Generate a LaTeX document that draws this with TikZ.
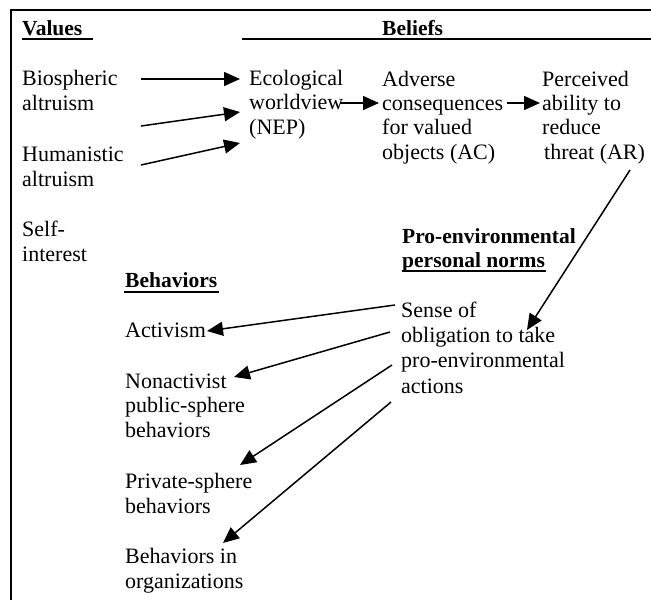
\documentclass[tikz,border=0pt]{standalone}
\usepackage{fontspec}
\setmainfont{Liberation Serif}
\usetikzlibrary{arrows.meta}
\begin{document}
\begin{tikzpicture}[x=1pt,y=-1pt,
  txt/.style={anchor=base west,inner sep=0pt,align=left,font=\fontsize{22}{24.3}\selectfont},
  txtb/.style={txt,font=\fontsize{22}{25.2}\selectfont},
  hdr/.style={txt,font=\fontsize{21.5}{24}\selectfont\bfseries},
  arr/.style={line width=1.5pt,-{Triangle[length=16pt,width=14pt]}},
  rule/.style={line width=2pt}]
\useasboundingbox (0,0) rectangle (651,600);
% frame
\coordinate (fr1) at (651,10);
\coordinate (fr2) at (11,10);
\coordinate (fr3) at (11,600);
\draw[rule] (fr1) -- (fr2) -- (fr3);
% headers
\node[hdr] (values) at (22,35) {Values};
\coordinate (vu1) at (22,39); \coordinate (vu2) at (93,39);
\draw[rule] (vu1) -- (vu2);
\node[hdr] (beliefs) at (382,35) {Beliefs};
\coordinate (bu1) at (242,39); \coordinate (bu2) at (651,39);
\draw[rule] (bu1) -- (bu2);
% values (base anchor = baseline of last line)
\node[txt] (bio) at (22,110) {Biospheric\\altruism};
\node[txt] (hum) at (22,186) {Humanistic\\altruism};
\node[txt] (self) at (22,261) {Self-\\interest};
% beliefs
\node[txt] (nep) at (249,134) {Ecological\\worldview\\(NEP)};
\node[txt] (ac) at (382,159) {Adverse\\consequences\\for valued\\objects (AC)};
\node[txt] (ar) at (542,159) {Perceived\\ability to\\reduce\\\hspace{2pt}threat (AR)};
% norms
\node[hdr] (pn) at (402,267) {Pro-environmental\\personal norms};
\coordinate (pu1) at (402,271); \coordinate (pu2) at (546,271);
\draw[rule] (pu1) -- (pu2);
\node[txtb] (sense) at (401,393) {Sense of\\obligation to take\\pro-environmental\\actions};
% behaviors
\node[hdr] (beh) at (125,287) {Behaviors};
\coordinate (hu1) at (124,292); \coordinate (hu2) at (219,292);
\draw[rule] (hu1) -- (hu2);
\node[txt] (act) at (125,337) {Activism};
\node[txt] (nonact) at (125,437) {Nonactivist\\public-sphere\\behaviors};
\node[txt] (priv) at (125,513) {Private-sphere\\behaviors};
\node[txt] (org) at (125,588) {Behaviors in\\organizations};
% arrow ends
\coordinate (b1s) at (141,79);  \coordinate (b1e) at (240,79);
\coordinate (b2s) at (141,126); \coordinate (b2e) at (240,112);
\coordinate (b3s) at (141,165); \coordinate (b3e) at (240,143);
\coordinate (n1s) at (340,103); \coordinate (n1e) at (379,103);
\coordinate (a1s) at (507,103); \coordinate (a1e) at (540,103);
\coordinate (r1s) at (630,170); \coordinate (r1e) at (527,330);
\coordinate (s1s) at (395,305); \coordinate (s1e) at (207,331);
\coordinate (s2s) at (390,332); \coordinate (s2e) at (234,377);
\coordinate (s3s) at (392,365); \coordinate (s3e) at (240,465);
\coordinate (s4s) at (391,402); \coordinate (s4e) at (223,543);
\draw[arr] (b1s) -- (b1e);
\draw[arr] (b2s) -- (b2e);
\draw[arr] (b3s) -- (b3e);
\draw[arr] (n1s) -- (n1e);
\draw[arr] (a1s) -- (a1e);
\draw[arr] (r1s) -- (r1e);
\draw[arr] (s1s) -- (s1e);
\draw[arr] (s2s) -- (s2e);
\draw[arr] (s3s) -- (s3e);
\draw[arr] (s4s) -- (s4e);
\end{tikzpicture}
\end{document}
